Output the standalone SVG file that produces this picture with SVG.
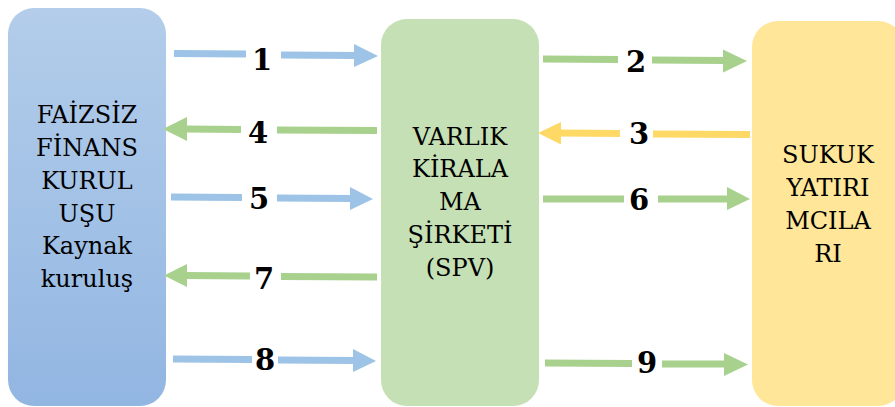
<svg xmlns="http://www.w3.org/2000/svg" width="895" height="407" viewBox="0 0 895 407">
  <defs>
    <linearGradient id="blueFill" x1="0" y1="0" x2="0" y2="1">
      <stop offset="0" stop-color="#b3cdea"/>
      <stop offset="1" stop-color="#92b6e2"/>
    </linearGradient>
    <style>
      text { font-family: 'DejaVu Serif', serif; fill: #000; text-anchor: middle; }
      .node-text { font-size: 24px; }
      .num { font-size: 29px; font-weight: bold; }
      .blue { stroke: #9dc3e6; fill: #9dc3e6; }
      .green { stroke: #a9d18e; fill: #a9d18e; }
      .yellow { stroke: #ffd966; fill: #ffd966; }
      .seg { stroke-width: 7; fill: none; }
      .head { stroke: none; }
    </style>
  </defs>
  <rect width="895" height="407" fill="#fff"/>

  <!-- source institution -->
  <g id="node-kaynak">
    <rect x="8" y="8" width="158" height="398" rx="26" fill="url(#blueFill)"/>
    <text class="node-text" x="87" y="123">FAİZSİZ</text>
    <text class="node-text" x="87" y="156">FİNANS</text>
    <text class="node-text" x="87" y="189">KURUL</text>
    <text class="node-text" x="87" y="222">UŞU</text>
    <text class="node-text" x="87" y="254">Kaynak</text>
    <text class="node-text" x="87" y="287">kuruluş</text>
  </g>

  <!-- special purpose vehicle -->
  <g id="node-spv">
    <rect x="381" y="19" width="158" height="387" rx="26" fill="#c5e0b4"/>
    <text class="node-text" x="460" y="145">VARLIK</text>
    <text class="node-text" x="460" y="177">KİRALA</text>
    <text class="node-text" x="460" y="210">MA</text>
    <text class="node-text" x="460" y="243">ŞİRKETİ</text>
    <text class="node-text" x="460" y="276">(SPV)</text>
  </g>

  <!-- investors -->
  <g id="node-yatirimci">
    <rect x="752" y="21" width="152" height="385" rx="26" fill="#ffe699"/>
    <text class="node-text" x="828" y="163">SUKUK</text>
    <text class="node-text" x="828" y="196">YATIRI</text>
    <text class="node-text" x="828" y="229">MCILA</text>
    <text class="node-text" x="828" y="262">RI</text>
  </g>

  <g id="connectors">
    <!-- 1 -->
    <g class="blue">
      <line class="seg" x1="174" y1="53.5" x2="246" y2="54"/>
      <line class="seg" x1="281" y1="55" x2="356" y2="55.5"/>
      <polygon class="head" points="354,44 378,56 354,67"/>
    </g>
    <text class="num" x="262" y="70">1</text>

    <!-- 2 -->
    <g class="green">
      <line class="seg" x1="543" y1="59" x2="618" y2="59.5"/>
      <line class="seg" x1="652" y1="60" x2="725" y2="60.5"/>
      <polygon class="head" points="723,49.5 747,61 723,72.5"/>
    </g>
    <text class="num" x="636" y="72">2</text>

    <!-- 3 -->
    <g class="yellow">
      <line class="seg" x1="750" y1="134.5" x2="653" y2="134"/>
      <line class="seg" x1="620" y1="133.5" x2="559" y2="133"/>
      <polygon class="head" points="561,122 538,133 561,144.5"/>
    </g>
    <text class="num" x="639" y="144">3</text>

    <!-- 4 -->
    <g class="green">
      <line class="seg" x1="377" y1="130.5" x2="277" y2="130"/>
      <line class="seg" x1="241" y1="129.5" x2="185" y2="129"/>
      <polygon class="head" points="187,117 163,129 187,141"/>
    </g>
    <text class="num" x="258" y="143">4</text>

    <!-- 5 -->
    <g class="blue">
      <line class="seg" x1="171" y1="197" x2="242" y2="197.5"/>
      <line class="seg" x1="277" y1="198" x2="352" y2="198.5"/>
      <polygon class="head" points="350,187 373,199 350,210"/>
    </g>
    <text class="num" x="259" y="209">5</text>

    <!-- 6 -->
    <g class="green">
      <line class="seg" x1="543" y1="199" x2="624" y2="199"/>
      <line class="seg" x1="658" y1="199" x2="729" y2="199"/>
      <polygon class="head" points="727,187 750,199 727,210"/>
    </g>
    <text class="num" x="639" y="210">6</text>

    <!-- 7 -->
    <g class="green">
      <line class="seg" x1="377" y1="277" x2="281" y2="276.5"/>
      <line class="seg" x1="250" y1="276" x2="185" y2="275.5"/>
      <polygon class="head" points="187,264 164,275.5 187,287"/>
    </g>
    <text class="num" x="264" y="289">7</text>

    <!-- 8 -->
    <g class="blue">
      <line class="seg" x1="173" y1="359" x2="252" y2="359.5"/>
      <line class="seg" x1="278" y1="360" x2="355" y2="360.5"/>
      <polygon class="head" points="353,349 376,361 353,372"/>
    </g>
    <text class="num" x="265" y="370">8</text>

    <!-- 9 -->
    <g class="green">
      <line class="seg" x1="545" y1="363" x2="632" y2="363.5"/>
      <line class="seg" x1="662" y1="364" x2="726" y2="364"/>
      <polygon class="head" points="724,353 748,364.5 724,376"/>
    </g>
    <text class="num" x="647" y="373">9</text>
  </g>
</svg>
